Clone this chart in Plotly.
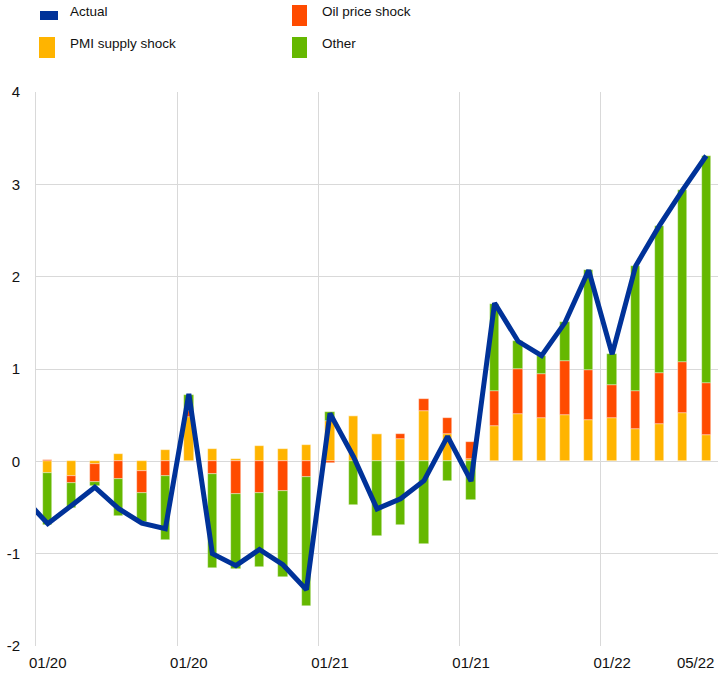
import plotly.graph_objects as go

# Month labels (first entry only feeds the line that enters from the left edge)
months = ["12/19",
          "01/20", "02/20", "03/20", "04/20", "05/20", "06/20", "07/20", "08/20", "09/20", "10/20", "11/20", "12/20",
          "01/21", "02/21", "03/21", "04/21", "05/21", "06/21", "07/21", "08/21", "09/21", "10/21", "11/21", "12/21",
          "01/22", "02/22", "03/22", "04/22", "05/22"]

actual = [-0.40,
          -0.675, -0.48, -0.28, -0.51, -0.67, -0.73, 0.73, -1.00, -1.13, -0.955, -1.12, -1.39,
          0.52, 0.05, -0.515, -0.405, -0.21, 0.27, -0.215, 1.715, 1.30, 1.145, 1.505, 2.07,
          1.16, 2.117, 2.55, 2.94, 3.31]

pmi_supply = [-0.125, -0.155, -0.03, 0.075, -0.11, 0.125, 0.48, 0.135, 0.03, 0.17, 0.13, 0.18,
              0.44, 0.49, 0.30, 0.245, 0.54, 0.30, 0.02, 0.38, 0.515, 0.465, 0.505, 0.445,
              0.47, 0.355, 0.40, 0.52, 0.29]

oil_price = [0.015, -0.08, -0.19, -0.19, -0.235, -0.155, 0.06, -0.135, -0.355, -0.345, -0.32, -0.165,
             -0.02, 0.0, 0.0, 0.055, 0.13, 0.17, 0.185, 0.38, 0.48, 0.48, 0.58, 0.54,
             0.355, 0.405, 0.56, 0.555, 0.56]

other = [-0.565, -0.265, -0.05, -0.405, -0.31, -0.70, 0.18, -1.015, -0.81, -0.795, -0.93, -1.405,
         0.09, -0.47, -0.81, -0.69, -0.89, -0.21, -0.42, 0.945, 0.305, 0.20, 0.42, 1.09,
         0.34, 1.355, 1.59, 1.865, 2.46]

tick_labels = ["01/20", "01/20", "01/21", "01/21", "01/22", "05/22"]
tick_months = ["01/20", "07/20", "01/21", "07/21", "01/22", "05/22"]

y_ticks = [-2, -1, 0, 1, 2, 3, 4]
y_tick_labels = ["-2", "-1", "0", "1", "2", "3", "4"]

legend_names = ["Actual", "Oil price shock", "PMI supply shock", "Other"]

C_ACTUAL = "#003299"
C_OIL = "#FF4B00"
C_PMI = "#FFB400"
C_OTHER = "#65B800"
GRID = "#d9d9d9"
FONT = "Liberation Sans, Arial, sans-serif"

x_all = list(range(len(months)))
x_bars = x_all[1:]

fig = go.Figure()
for name, vals, col in [(legend_names[2], pmi_supply, C_PMI),
                        (legend_names[1], oil_price, C_OIL),
                        (legend_names[3], other, C_OTHER)]:
    fig.add_trace(go.Bar(x=x_bars, y=vals, name=name, width=0.4,
                         marker=dict(color=col, line=dict(width=0.6, color="rgba(255,255,255,0.6)")),
                         showlegend=False))

fig.add_trace(go.Scatter(x=x_all, y=actual, mode="lines", name=legend_names[0],
                         line=dict(color=C_ACTUAL, width=5), showlegend=False))

tickvals = [months.index(m) for m in tick_months]
tickvals[-1] = tickvals[-1] - 0.45  # last label nudged left to stay inside the canvas

fig.update_layout(
    width=718, height=674,
    margin=dict(l=36, r=0, t=92, b=28),
    barmode="relative",
    bargap=0,
    plot_bgcolor="white", paper_bgcolor="white",
    font=dict(family=FONT, size=15, color="#111111"),
    xaxis=dict(range=[0.5, len(months) - 0.5], tickmode="array", tickvals=tickvals,
               ticktext=tick_labels, showgrid=False, zeroline=False, showline=False,
               ticks="", ticklabelstandoff=6, automargin=False,
               minor=dict(tickmode="linear", tick0=0.5, dtick=6, showgrid=True,
                          gridcolor=GRID, gridwidth=1, ticks="")),
    yaxis=dict(range=[-2, 4], tickmode="array", tickvals=y_ticks, ticktext=y_tick_labels,
               showgrid=True, gridcolor=GRID, gridwidth=1,
               zeroline=False, showline=True, linecolor=GRID, linewidth=1,
               ticks="", ticklabelstandoff=12, automargin=False),
)

# Manual legend (two columns)
W, H, L, T = 682.0, 554.0, 36.0, 92.0
def px(x):
    return (x - L) / W
def py(y):
    return (T + H - y) / H

swatches = [
    (40, 58, 11, 20, C_ACTUAL),
    (292, 307, 5, 26, C_OIL),
    (39, 55, 37, 58, C_PMI),
    (292, 307, 37, 58, C_OTHER),
]
for x0, x1, y0, y1, col in swatches:
    fig.add_shape(type="rect", xref="paper", yref="paper",
                  x0=px(x0), x1=px(x1), y0=py(y1), y1=py(y0),
                  fillcolor=col, line=dict(width=0))

labels = [(70, 12, legend_names[0]), (322, 12, legend_names[1]),
          (70, 43, legend_names[2]), (322, 43, legend_names[3])]
for x, y, t in labels:
    fig.add_annotation(xref="paper", yref="paper", x=px(x - 2), y=py(y), text=t,
                       showarrow=False, xanchor="left", yanchor="middle",
                       font=dict(family=FONT, size=13.5, color="#111111"))

fig.write_html("out.html",
               config={"displayModeBar": False},
               post_script="document.body.style.margin='0';document.body.style.padding='0';")
